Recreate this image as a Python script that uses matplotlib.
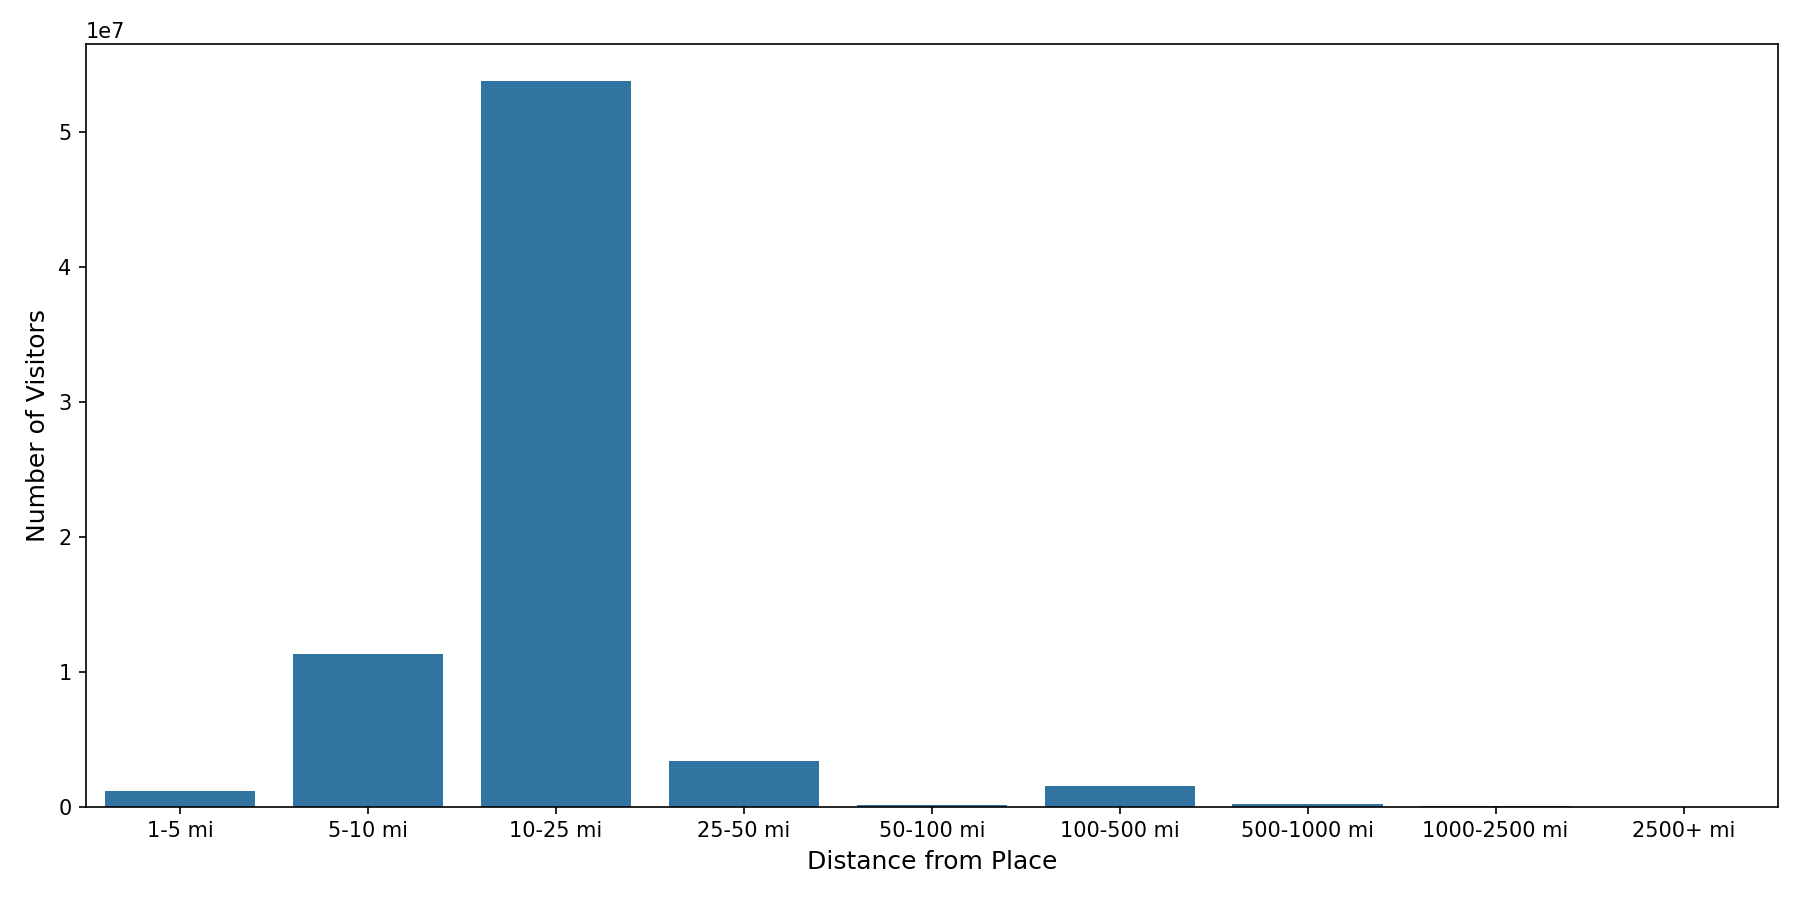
import matplotlib
matplotlib.use("Agg")
import matplotlib.pyplot as plt

categories = ["1-5 mi", "5-10 mi", "10-25 mi", "25-50 mi", "50-100 mi",
              "100-500 mi", "500-1000 mi", "1000-2500 mi", "2500+ mi"]
visitors = [1.17e6, 1.13e7, 5.38e7, 3.39e6, 1.5e5, 1.54e6, 2.0e5, 3.0e4, 5.0e3]

fig, ax = plt.subplots(figsize=(12, 6), dpi=150)
x = range(len(categories))
ax.bar(x, visitors, width=0.8, color="#3274a1")
ax.set_xticks(list(x))
ax.set_xticklabels(categories)
ax.set_xlim(-0.5, len(categories) - 0.5)
ax.set_xlabel("Distance from Place", fontsize=12)
ax.set_ylabel("Number of Visitors", fontsize=12)
fig.subplots_adjust(left=0.0478, right=0.9875, top=0.9508, bottom=0.1037)
fig.savefig("out.png", dpi=150)
